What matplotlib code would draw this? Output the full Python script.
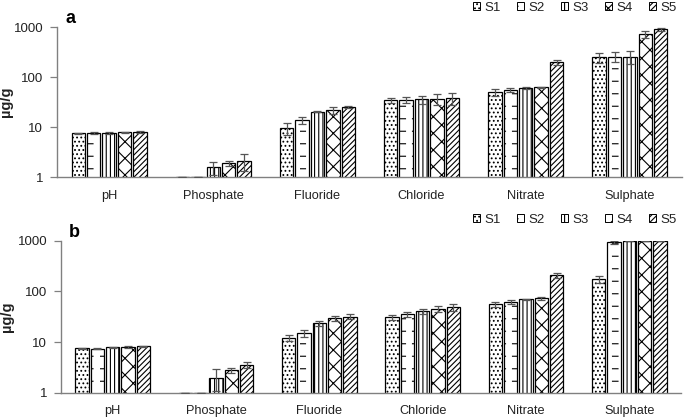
import numpy as np
import matplotlib
matplotlib.use("Agg")
import matplotlib.pyplot as plt
import matplotlib.hatch as mhatch
from matplotlib.path import Path
from matplotlib.patches import Rectangle
from matplotlib.ticker import NullLocator

# ---------------- data ----------------
categories = ["pH", "Phosphate", "Fluoride", "Chloride", "Nitrate", "Sulphate"]
series = ["S1", "S2", "S3", "S4", "S5"]

# panel a values (per series, across categories)
a_S1 = [7.5, 1.0, 9.5, 34.0, 50.0, 247.0]
a_S2 = [7.6, 1.0, 13.8, 35.0, 55.0, 255.0]
a_S3 = [7.7, 1.56, 20.3, 35.5, 59.5, 255.0]
a_S4 = [7.8, 1.88, 21.9, 36.3, 62.0, 724.0]
a_S5 = [7.9, 2.12, 25.0, 38.0, 196.0, 898.0]
a_err_S1 = [0.2, 0.0, 2.5, 4.4, 8.0, 60.0]
a_err_S2 = [0.3, 0.0, 2.2, 5.0, 6.0, 60.0]
a_err_S3 = [0.3, 0.45, 0.8, 7.0, 3.0, 72.0]
a_err_S4 = [0.3, 0.22, 3.6, 9.0, 2.0, 120.0]
a_err_S5 = [0.3, 0.8, 0.8, 10.6, 22.0, 55.0]

# panel b values
b_S1 = [7.5, 1.0, 12.2, 30.8, 56.3, 175.0]
b_S2 = [7.4, 1.0, 14.9, 35.7, 62.5, 929.0]
b_S3 = [7.85, 1.99, 23.4, 40.4, 69.7, 990.0]
b_S4 = [7.9, 2.77, 29.4, 44.9, 73.0, 1000.0]
b_S5 = [8.2, 3.54, 31.6, 48.5, 207.0, 1000.0]
b_err_S1 = [0.1, 0.0, 1.8, 3.7, 6.7, 30.0]
b_err_S2 = [0.2, 0.0, 2.4, 4.3, 6.5, 71.0]
b_err_S3 = [0.2, 0.9, 2.6, 4.6, 2.3, 10.0]
b_err_S4 = [0.3, 0.35, 3.6, 6.1, 5.0, 0.0]
b_err_S5 = [0.3, 0.5, 3.4, 7.5, 23.0, 0.0]

ytick_vals = [1, 10, 100, 1000]
ytick_labels = ["1", "10", "100", "1000"]


# ---------------- custom dashed-horizontal hatch (replaces '*') ----------------
class DashRows(mhatch.HatchPatternBase):
    def __init__(self, hatch, density):
        n = hatch.count('*')
        self.rows = 8 if n else 0
        self.cols = 8
        self.num_vertices = self.rows * self.cols * 2

    def set_vertices_and_codes(self, vertices, codes):
        k = 0
        for i in range(self.rows):
            y = (i + 0.5) / self.rows
            for j in range(self.cols):
                x0 = j / self.cols
                vertices[k] = (x0, y)
                vertices[k + 1] = (x0 + 0.055, y)
                codes[k] = Path.MOVETO
                codes[k + 1] = Path.LINETO
                k += 2


mhatch._hatch_types[:] = [t for t in mhatch._hatch_types
                          if t is not mhatch.Stars] + [DashRows]

plt.rcParams['font.family'] = ['Liberation Sans', 'DejaVu Sans']
plt.rcParams['hatch.linewidth'] = 0.8
plt.rcParams['hatch.color'] = 'black'

hatches = ["....", "*", "||||", "xx", "//////"]

fig = plt.figure(figsize=(6.85, 4.19), dpi=100)
ax_a = fig.add_axes([57 / 685, 1 - 177 / 419, 625 / 685, 150 / 419])
ax_b = fig.add_axes([61 / 685, 1 - 392.7 / 419, 620 / 685, 152 / 419])

txt_col = '#222222'
axis_col = '#808080'
width = 0.128
step = 0.148


def draw(ax, vals, errs, label, legend_y):
    x = np.arange(len(categories))
    handles = []
    for j, (v, e) in enumerate(zip(vals, errs)):
        ax.bar(x + (j - 2) * step, v, width, color='white', edgecolor='black',
               linewidth=0.9, hatch=hatches[j], zorder=2)
        ax.errorbar(x + (j - 2) * step, v, yerr=e, fmt='none', ecolor='#555555',
                    elinewidth=0.9, capsize=3, capthick=0.9, zorder=3)
        handles.append(Rectangle((0, 0), 1, 1, facecolor='white', edgecolor='black',
                                 linewidth=0.7, hatch=hatches[j]))
    ax.set_yscale('log')
    ax.set_ylim(1, 1000)
    ax.set_xlim(-0.5, len(categories) - 0.5)
    ax.set_yticks(ytick_vals, ytick_labels)
    ax.yaxis.set_minor_locator(NullLocator())
    ax.set_xticks(x, categories)
    ax.tick_params(axis='x', length=0, pad=9, labelsize=9.2, colors=txt_col)
    ax.tick_params(axis='y', length=5, width=0.9, color=axis_col, pad=5,
                   labelsize=9.5, labelcolor=txt_col)
    for s in ['top', 'right']:
        ax.spines[s].set_visible(False)
    for s in ['left', 'bottom']:
        ax.spines[s].set_color(axis_col)
        ax.spines[s].set_linewidth(1.0)
    ax.set_ylabel('µg/g', fontsize=10.5, fontweight='bold', color=txt_col, labelpad=6)
    ax.text(0.013, 1.0, label, transform=ax.transAxes, fontsize=13,
            fontweight='bold', va='bottom', ha='left', color='black')
    fig.legend(handles, series, loc='center right',
               bbox_to_anchor=(683 / 685, legend_y), ncol=5, frameon=False,
               fontsize=9.5, handlelength=0.55, handleheight=0.55,
               handletextpad=0.3, columnspacing=1.25, borderpad=0,
               labelcolor=txt_col)


draw(ax_a, [a_S1, a_S2, a_S3, a_S4, a_S5],
     [a_err_S1, a_err_S2, a_err_S3, a_err_S4, a_err_S5], 'a', 1 - 8 / 419)
draw(ax_b, [b_S1, b_S2, b_S3, b_S4, b_S5],
     [b_err_S1, b_err_S2, b_err_S3, b_err_S4, b_err_S5], 'b', 1 - 220 / 419)

ax_a.yaxis.set_label_coords(-0.07, 0.5)
ax_b.yaxis.set_label_coords(-0.076, 0.5)

fig.savefig('out.png', dpi=100)
